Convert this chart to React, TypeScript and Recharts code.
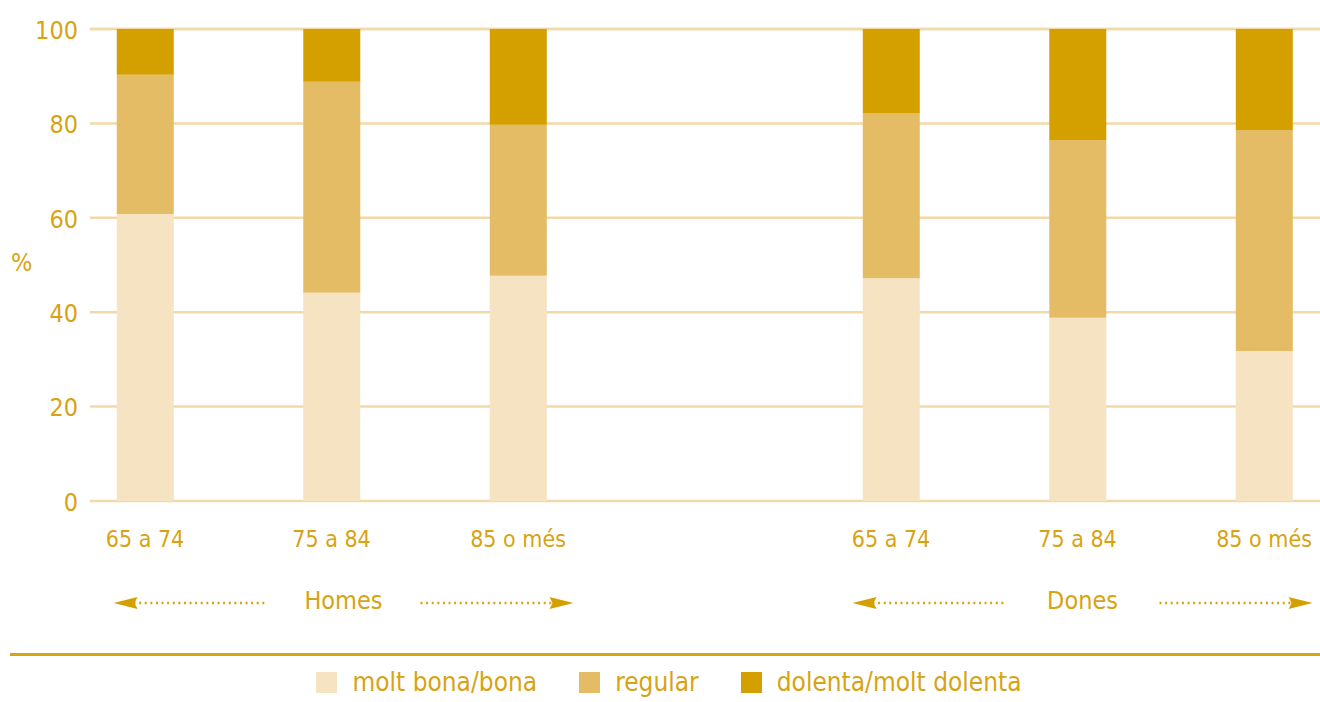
import React from 'react';
import { BarChart, Bar, XAxis, YAxis, CartesianGrid, Legend } from 'recharts';

const categories = ['65 a 74', '75 a 84', '85 o més', '65 a 74', '75 a 84', '85 o més'];
const groupOf = ['Homes', 'Homes', 'Homes', 'Dones', 'Dones', 'Dones'];
const groups = ['Homes', 'Dones'];
const moltBona = [60.8, 44.1, 47.7, 47.2, 38.8, 31.8];
const regular = [29.5, 44.7, 32.0, 35.0, 37.7, 46.8];
const dolenta = [9.7, 11.2, 20.3, 17.8, 23.5, 21.4];
const yTicks = [0, 20, 40, 60, 80, 100];

const seriesNames = ['molt bona/bona', 'regular', 'dolenta/molt dolenta'];
const COLORS = ['#F5E3C1', '#E4BC66', '#D4A000'];
const TEXT = '#D7A312';
const FONT = '"Liberation Sans Narrow", "DejaVu Sans Condensed", "Roboto", sans-serif';

// slot index: groups are separated by one empty slot
const perGroup = categories.length / groups.length;
const slotOf = (i: number) => groups.indexOf(groupOf[i]) * (perGroup + 1) + (i % perGroup);

const data = categories.map((c, i) => ({
  x: slotOf(i),
  name: c,
  a: moltBona[i],
  b: regular[i],
  c: dolenta[i],
}));

const groupCenters = groups.map((g) => {
  const xs = data.filter((_, i) => groupOf[i] === g).map((d) => d.x);
  return (Math.min(...xs) + Math.max(...xs)) / 2;
});

const catTicks = data.map((d) => d.x);
const labelAt = (v: number) => {
  const idx = data.findIndex((d) => d.x === v);
  return idx >= 0 ? data[idx].name : '';
};

const CatTick = (props: any) => {
  const { x, y, payload } = props;
  return (
    <text x={x} y={y + 38} textAnchor="middle" fill={TEXT} fontSize={23} fontFamily={FONT}>
      {labelAt(payload.value)}
    </text>
  );
};

const GroupTick = (props: any) => {
  const { x, y, payload } = props;
  const gi = groupCenters.indexOf(payload.value);
  const name = gi >= 0 ? groups[gi] : '';
  const cx = x + (gi === 0 ? 12 : 5);
  const yy = y + 34;
  const lTip = cx - 230;
  const lEnd = cx - 76;
  const rStart = cx + 77;
  const rTip = cx + 230;
  return (
    <g>
      <text x={cx} y={y + 40} textAnchor="middle" fill={TEXT} fontSize={25} fontFamily={FONT}>
        {name}
      </text>
      <line x1={lTip + 20} y1={yy} x2={lEnd} y2={yy} stroke={TEXT} strokeWidth={2.5} strokeDasharray="2 3.6" />
      <polygon points={`${lTip},${yy} ${lTip + 24},${yy - 6} ${lTip + 21},${yy} ${lTip + 24},${yy + 6}`} fill={COLORS[2]} />
      <line x1={rStart} y1={yy} x2={rTip - 20} y2={yy} stroke={TEXT} strokeWidth={2.5} strokeDasharray="2 3.6" />
      <polygon points={`${rTip},${yy} ${rTip - 24},${yy - 6} ${rTip - 21},${yy} ${rTip - 24},${yy + 6}`} fill={COLORS[2]} />
    </g>
  );
};

const LegendContent = () => (
  <div style={{ height: 81, boxSizing: 'border-box', paddingTop: 32 }}>
    <div style={{ marginLeft: 10, borderTop: `3px solid ${TEXT}`, height: 0 }} />
    <div
      style={{
        display: 'flex',
        justifyContent: 'center',
        alignItems: 'center',
        marginTop: 11,
        paddingLeft: 18,
        fontFamily: FONT,
        fontSize: 26,
        color: TEXT,
      }}
    >
      {seriesNames.map((n, i) => (
        <div key={n} style={{ display: 'flex', alignItems: 'center', marginRight: i < 2 ? 42 : 0 }}>
          <span style={{ width: 21, height: 21, background: COLORS[i], display: 'inline-block', marginRight: 15 }} />
          <span>{n}</span>
        </div>
      ))}
    </div>
  </div>
);

export default function App() {
  return (
    <div style={{ position: 'absolute', left: 0, top: 0, width: 1320, height: 702, background: '#fff' }}>
      <BarChart width={1320} height={702} data={data} margin={{ top: 29, right: 0, bottom: 0, left: 0 }}>
        <CartesianGrid horizontal vertical={false} stroke="#F3D9A8" strokeWidth={2.5} />
        <XAxis
          dataKey="x"
          type="number"
          domain={[-0.295, 6.3]}
          ticks={catTicks}
          tick={<CatTick />}
          axisLine={false}
          tickLine={false}
          height={60}
          interval={0}
          allowDataOverflow
        />
        <XAxis
          xAxisId="g"
          dataKey="x"
          type="number"
          domain={[-0.295, 6.3]}
          ticks={groupCenters}
          tick={<GroupTick />}
          axisLine={false}
          tickLine={false}
          height={60}
          interval={0}
          allowDataOverflow
        />
        <YAxis
          domain={[0, 100]}
          ticks={yTicks}
          width={90}
          axisLine={false}
          tickLine={false}
          tickSize={0}
          tickMargin={12}
          tick={{ fill: TEXT, fontSize: 25, fontFamily: FONT, dy: 1 }}
          label={{ value: '%', position: 'insideLeft', offset: 11, fill: TEXT, fontSize: 25, fontFamily: FONT, dy: -3 }}
        />
        <Legend verticalAlign="bottom" content={<LegendContent />} wrapperStyle={{ left: 0, width: 1320 }} />
        <Bar dataKey="a" name={seriesNames[0]} stackId="s" fill={COLORS[0]} barSize={57} isAnimationActive={false} />
        <Bar dataKey="b" name={seriesNames[1]} stackId="s" fill={COLORS[1]} barSize={57} isAnimationActive={false} />
        <Bar dataKey="c" name={seriesNames[2]} stackId="s" fill={COLORS[2]} barSize={57} isAnimationActive={false} />
      </BarChart>
    </div>
  );
}
